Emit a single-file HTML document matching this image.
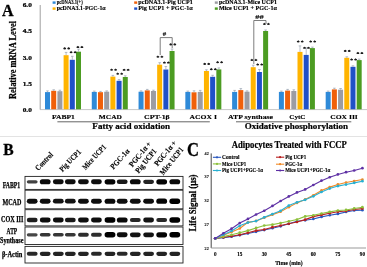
<!DOCTYPE html><html><head><meta charset="utf-8"><style>html,body{margin:0;padding:0;background:#fff;overflow:hidden}svg{display:block;will-change:transform;filter:blur(0.35px);}</style></head><body>
<svg width="367" height="267" viewBox="0 0 367 267" font-family='"Liberation Serif", serif' font-weight="bold" fill="#000">
<defs><filter id="bl" x="-50%" y="-150%" width="200%" height="400%"><feGaussianBlur stdDeviation="0.6 0.5"/></filter></defs>
<rect width="367" height="267" fill="#fff"/>
<text x="2.00" y="15.60" font-size="16" stroke="#000" stroke-width="0.3" >A</text>
<text x="31.90" y="6.90" font-size="6.0" text-anchor="end" textLength="9.2" lengthAdjust="spacingAndGlyphs" stroke="#000" stroke-width="0.22" >6.0</text>
<text x="31.90" y="32.80" font-size="6.0" text-anchor="end" textLength="9.2" lengthAdjust="spacingAndGlyphs" stroke="#000" stroke-width="0.22" >4.5</text>
<text x="31.90" y="59.70" font-size="6.0" text-anchor="end" textLength="9.2" lengthAdjust="spacingAndGlyphs" stroke="#000" stroke-width="0.22" >3.0</text>
<text x="31.90" y="86.00" font-size="6.0" text-anchor="end" textLength="9.2" lengthAdjust="spacingAndGlyphs" stroke="#000" stroke-width="0.22" >1.5</text>
<text x="31.90" y="111.70" font-size="6.0" text-anchor="end" textLength="9.2" lengthAdjust="spacingAndGlyphs" stroke="#000" stroke-width="0.22" >0.0</text>
<text transform="translate(16.00,60.00) rotate(-90)" font-size="10.2" text-anchor="middle" textLength="78" lengthAdjust="spacingAndGlyphs" stroke="#000" stroke-width="0.25" >Relative mRNA Level</text>
<line x1="40.2" y1="5" x2="40.2" y2="109.6" stroke="#a0a0a0" stroke-width="1"/>
<line x1="40" y1="109.6" x2="367" y2="109.6" stroke="#b8b8b8" stroke-width="0.8"/>
<rect x="45.00" y="92.1" width="5.0" height="17.20" fill="#2f8ad8"/>
<path d="M46.20 90.90H48.80M47.50 90.90V92.10" stroke="#98a2b0" stroke-width="0.7" fill="none"/>
<rect x="51.20" y="90.8" width="5.0" height="18.50" fill="#f0600a"/>
<path d="M52.40 89.80H55.00M53.70 89.80V90.80" stroke="#98a2b0" stroke-width="0.7" fill="none"/>
<rect x="57.40" y="91.2" width="5.0" height="18.10" fill="#9c9ca2"/>
<path d="M58.60 90.20H61.20M59.90 90.20V91.20" stroke="#98a2b0" stroke-width="0.7" fill="none"/>
<rect x="63.60" y="55.2" width="5.0" height="54.10" fill="#ffb400"/>
<path d="M64.80 52.40H67.40M66.10 52.40V55.20" stroke="#98a2b0" stroke-width="0.7" fill="none"/>
<rect x="69.80" y="59.8" width="5.0" height="49.50" fill="#1f50c8"/>
<path d="M71.00 56.30H73.60M72.30 56.30V59.80" stroke="#98a2b0" stroke-width="0.7" fill="none"/>
<rect x="76.00" y="51.7" width="5.0" height="57.60" fill="#4c9c22"/>
<path d="M77.20 49.20H79.80M78.50 49.20V51.70" stroke="#98a2b0" stroke-width="0.7" fill="none"/>
<rect x="91.78" y="91.9" width="5.0" height="17.40" fill="#2f8ad8"/>
<path d="M92.98 91.10H95.58M94.28 91.10V91.90" stroke="#98a2b0" stroke-width="0.7" fill="none"/>
<rect x="97.98" y="92.2" width="5.0" height="17.10" fill="#f0600a"/>
<path d="M99.18 91.40H101.78M100.48 91.40V92.20" stroke="#98a2b0" stroke-width="0.7" fill="none"/>
<rect x="104.18" y="91.7" width="5.0" height="17.60" fill="#9c9ca2"/>
<path d="M105.38 90.90H107.98M106.68 90.90V91.70" stroke="#98a2b0" stroke-width="0.7" fill="none"/>
<rect x="110.38" y="76.6" width="5.0" height="32.70" fill="#ffb400"/>
<path d="M111.58 75.40H114.18M112.88 75.40V76.60" stroke="#98a2b0" stroke-width="0.7" fill="none"/>
<rect x="116.58" y="80.8" width="5.0" height="28.50" fill="#1f50c8"/>
<path d="M117.78 79.60H120.38M119.08 79.60V80.80" stroke="#98a2b0" stroke-width="0.7" fill="none"/>
<rect x="122.78" y="77.0" width="5.0" height="32.30" fill="#4c9c22"/>
<path d="M123.98 75.80H126.58M125.28 75.80V77.00" stroke="#98a2b0" stroke-width="0.7" fill="none"/>
<rect x="138.56" y="91.7" width="5.0" height="17.60" fill="#2f8ad8"/>
<path d="M139.76 90.90H142.36M141.06 90.90V91.70" stroke="#98a2b0" stroke-width="0.7" fill="none"/>
<rect x="144.76" y="90.4" width="5.0" height="18.90" fill="#f0600a"/>
<path d="M145.96 89.40H148.56M147.26 89.40V90.40" stroke="#98a2b0" stroke-width="0.7" fill="none"/>
<rect x="150.96" y="91.0" width="5.0" height="18.30" fill="#9c9ca2"/>
<path d="M152.16 90.20H154.76M153.46 90.20V91.00" stroke="#98a2b0" stroke-width="0.7" fill="none"/>
<rect x="157.16" y="64.7" width="5.0" height="44.60" fill="#ffb400"/>
<path d="M158.36 62.70H160.96M159.66 62.70V64.70" stroke="#98a2b0" stroke-width="0.7" fill="none"/>
<rect x="163.36" y="69.5" width="5.0" height="39.80" fill="#1f50c8"/>
<path d="M164.56 66.50H167.16M165.86 66.50V69.50" stroke="#98a2b0" stroke-width="0.7" fill="none"/>
<rect x="169.56" y="51.0" width="5.0" height="58.30" fill="#4c9c22"/>
<path d="M170.76 49.00H173.36M172.06 49.00V51.00" stroke="#98a2b0" stroke-width="0.7" fill="none"/>
<rect x="185.34" y="91.9" width="5.0" height="17.40" fill="#2f8ad8"/>
<path d="M186.54 91.10H189.14M187.84 91.10V91.90" stroke="#98a2b0" stroke-width="0.7" fill="none"/>
<rect x="191.54" y="92.3" width="5.0" height="17.00" fill="#f0600a"/>
<path d="M192.74 90.80H195.34M194.04 90.80V92.30" stroke="#98a2b0" stroke-width="0.7" fill="none"/>
<rect x="197.74" y="91.9" width="5.0" height="17.40" fill="#9c9ca2"/>
<path d="M198.94 90.40H201.54M200.24 90.40V91.90" stroke="#98a2b0" stroke-width="0.7" fill="none"/>
<rect x="203.94" y="71.0" width="5.0" height="38.30" fill="#ffb400"/>
<path d="M205.14 69.80H207.74M206.44 69.80V71.00" stroke="#98a2b0" stroke-width="0.7" fill="none"/>
<rect x="210.14" y="76.8" width="5.0" height="32.50" fill="#1f50c8"/>
<path d="M211.34 75.30H213.94M212.64 75.30V76.80" stroke="#98a2b0" stroke-width="0.7" fill="none"/>
<rect x="216.34" y="69.4" width="5.0" height="39.90" fill="#4c9c22"/>
<path d="M217.54 67.90H220.14M218.84 67.90V69.40" stroke="#98a2b0" stroke-width="0.7" fill="none"/>
<rect x="232.12" y="91.9" width="5.0" height="17.40" fill="#2f8ad8"/>
<path d="M233.32 90.40H235.92M234.62 90.40V91.90" stroke="#98a2b0" stroke-width="0.7" fill="none"/>
<rect x="238.32" y="90.1" width="5.0" height="19.20" fill="#f0600a"/>
<path d="M239.52 88.60H242.12M240.82 88.60V90.10" stroke="#98a2b0" stroke-width="0.7" fill="none"/>
<rect x="244.52" y="91.7" width="5.0" height="17.60" fill="#9c9ca2"/>
<path d="M245.72 90.90H248.32M247.02 90.90V91.70" stroke="#98a2b0" stroke-width="0.7" fill="none"/>
<rect x="250.72" y="67.2" width="5.0" height="42.10" fill="#ffb400"/>
<path d="M251.92 65.20H254.52M253.22 65.20V67.20" stroke="#98a2b0" stroke-width="0.7" fill="none"/>
<rect x="256.92" y="72.0" width="5.0" height="37.30" fill="#1f50c8"/>
<path d="M258.12 69.50H260.72M259.42 69.50V72.00" stroke="#98a2b0" stroke-width="0.7" fill="none"/>
<rect x="263.12" y="31.0" width="5.0" height="78.30" fill="#4c9c22"/>
<path d="M264.32 30.00H266.92M265.62 30.00V31.00" stroke="#98a2b0" stroke-width="0.7" fill="none"/>
<rect x="278.90" y="91.9" width="5.0" height="17.40" fill="#2f8ad8"/>
<path d="M280.10 91.10H282.70M281.40 91.10V91.90" stroke="#98a2b0" stroke-width="0.7" fill="none"/>
<rect x="285.10" y="90.6" width="5.0" height="18.70" fill="#f0600a"/>
<path d="M286.30 89.40H288.90M287.60 89.40V90.60" stroke="#98a2b0" stroke-width="0.7" fill="none"/>
<rect x="291.30" y="91.0" width="5.0" height="18.30" fill="#9c9ca2"/>
<path d="M292.50 89.80H295.10M293.80 89.80V91.00" stroke="#98a2b0" stroke-width="0.7" fill="none"/>
<rect x="297.50" y="51.9" width="5.0" height="57.40" fill="#ffb400"/>
<path d="M298.70 45.90H301.30M300.00 45.90V51.90" stroke="#98a2b0" stroke-width="0.7" fill="none"/>
<rect x="303.70" y="54.9" width="5.0" height="54.40" fill="#1f50c8"/>
<path d="M304.90 47.90H307.50M306.20 47.90V54.90" stroke="#98a2b0" stroke-width="0.7" fill="none"/>
<rect x="309.90" y="48.1" width="5.0" height="61.20" fill="#4c9c22"/>
<path d="M311.10 47.10H313.70M312.40 47.10V48.10" stroke="#98a2b0" stroke-width="0.7" fill="none"/>
<rect x="325.68" y="91.9" width="5.0" height="17.40" fill="#2f8ad8"/>
<path d="M326.88 91.10H329.48M328.18 91.10V91.90" stroke="#98a2b0" stroke-width="0.7" fill="none"/>
<rect x="331.88" y="89.4" width="5.0" height="19.90" fill="#f0600a"/>
<path d="M333.08 88.20H335.68M334.38 88.20V89.40" stroke="#98a2b0" stroke-width="0.7" fill="none"/>
<rect x="338.08" y="89.7" width="5.0" height="19.60" fill="#9c9ca2"/>
<path d="M339.28 88.50H341.88M340.58 88.50V89.70" stroke="#98a2b0" stroke-width="0.7" fill="none"/>
<rect x="344.28" y="57.8" width="5.0" height="51.50" fill="#ffb400"/>
<path d="M345.48 56.80H348.08M346.78 56.80V57.80" stroke="#98a2b0" stroke-width="0.7" fill="none"/>
<rect x="350.48" y="66.8" width="5.0" height="42.50" fill="#1f50c8"/>
<path d="M351.68 65.80H354.28M352.98 65.80V66.80" stroke="#98a2b0" stroke-width="0.7" fill="none"/>
<rect x="356.68" y="60.1" width="5.0" height="49.20" fill="#4c9c22"/>
<path d="M357.88 59.10H360.48M359.18 59.10V60.10" stroke="#98a2b0" stroke-width="0.7" fill="none"/>
<ellipse cx="64.70" cy="48.50" rx="1.45" ry="0.9" fill="#1a1a1a"/>
<path d="M64.10 48.30L64.70 47.00L65.30 48.30Z" fill="#1a1a1a"/>
<ellipse cx="68.70" cy="48.50" rx="1.45" ry="0.9" fill="#1a1a1a"/>
<path d="M68.10 48.30L68.70 47.00L69.30 48.30Z" fill="#1a1a1a"/>
<ellipse cx="71.10" cy="52.30" rx="1.45" ry="0.9" fill="#1a1a1a"/>
<path d="M70.50 52.10L71.10 50.80L71.70 52.10Z" fill="#1a1a1a"/>
<ellipse cx="75.10" cy="52.30" rx="1.45" ry="0.9" fill="#1a1a1a"/>
<path d="M74.50 52.10L75.10 50.80L75.70 52.10Z" fill="#1a1a1a"/>
<ellipse cx="77.90" cy="47.20" rx="1.45" ry="0.9" fill="#1a1a1a"/>
<path d="M77.30 47.00L77.90 45.70L78.50 47.00Z" fill="#1a1a1a"/>
<ellipse cx="81.90" cy="47.20" rx="1.45" ry="0.9" fill="#1a1a1a"/>
<path d="M81.30 47.00L81.90 45.70L82.50 47.00Z" fill="#1a1a1a"/>
<ellipse cx="111.60" cy="69.80" rx="1.45" ry="0.9" fill="#1a1a1a"/>
<path d="M111.00 69.60L111.60 68.30L112.20 69.60Z" fill="#1a1a1a"/>
<ellipse cx="115.60" cy="69.80" rx="1.45" ry="0.9" fill="#1a1a1a"/>
<path d="M115.00 69.60L115.60 68.30L116.20 69.60Z" fill="#1a1a1a"/>
<ellipse cx="117.70" cy="73.80" rx="1.45" ry="0.9" fill="#1a1a1a"/>
<path d="M117.10 73.60L117.70 72.30L118.30 73.60Z" fill="#1a1a1a"/>
<ellipse cx="121.70" cy="73.80" rx="1.45" ry="0.9" fill="#1a1a1a"/>
<path d="M121.10 73.60L121.70 72.30L122.30 73.60Z" fill="#1a1a1a"/>
<ellipse cx="124.10" cy="69.90" rx="1.45" ry="0.9" fill="#1a1a1a"/>
<path d="M123.50 69.70L124.10 68.40L124.70 69.70Z" fill="#1a1a1a"/>
<ellipse cx="128.10" cy="69.90" rx="1.45" ry="0.9" fill="#1a1a1a"/>
<path d="M127.50 69.70L128.10 68.40L128.70 69.70Z" fill="#1a1a1a"/>
<ellipse cx="157.90" cy="56.80" rx="1.45" ry="0.9" fill="#1a1a1a"/>
<path d="M157.30 56.60L157.90 55.30L158.50 56.60Z" fill="#1a1a1a"/>
<ellipse cx="161.90" cy="56.80" rx="1.45" ry="0.9" fill="#1a1a1a"/>
<path d="M161.30 56.60L161.90 55.30L162.50 56.60Z" fill="#1a1a1a"/>
<ellipse cx="164.40" cy="62.70" rx="1.45" ry="0.9" fill="#1a1a1a"/>
<path d="M163.80 62.50L164.40 61.20L165.00 62.50Z" fill="#1a1a1a"/>
<ellipse cx="168.40" cy="62.70" rx="1.45" ry="0.9" fill="#1a1a1a"/>
<path d="M167.80 62.50L168.40 61.20L169.00 62.50Z" fill="#1a1a1a"/>
<ellipse cx="170.80" cy="44.50" rx="1.45" ry="0.9" fill="#1a1a1a"/>
<path d="M170.20 44.30L170.80 43.00L171.40 44.30Z" fill="#1a1a1a"/>
<ellipse cx="174.80" cy="44.50" rx="1.45" ry="0.9" fill="#1a1a1a"/>
<path d="M174.20 44.30L174.80 43.00L175.40 44.30Z" fill="#1a1a1a"/>
<ellipse cx="204.70" cy="64.00" rx="1.45" ry="0.9" fill="#1a1a1a"/>
<path d="M204.10 63.80L204.70 62.50L205.30 63.80Z" fill="#1a1a1a"/>
<ellipse cx="208.70" cy="64.00" rx="1.45" ry="0.9" fill="#1a1a1a"/>
<path d="M208.10 63.80L208.70 62.50L209.30 63.80Z" fill="#1a1a1a"/>
<ellipse cx="211.30" cy="69.30" rx="1.45" ry="0.9" fill="#1a1a1a"/>
<path d="M210.70 69.10L211.30 67.80L211.90 69.10Z" fill="#1a1a1a"/>
<ellipse cx="215.30" cy="69.30" rx="1.45" ry="0.9" fill="#1a1a1a"/>
<path d="M214.70 69.10L215.30 67.80L215.90 69.10Z" fill="#1a1a1a"/>
<ellipse cx="217.60" cy="62.30" rx="1.45" ry="0.9" fill="#1a1a1a"/>
<path d="M217.00 62.10L217.60 60.80L218.20 62.10Z" fill="#1a1a1a"/>
<ellipse cx="221.60" cy="62.30" rx="1.45" ry="0.9" fill="#1a1a1a"/>
<path d="M221.00 62.10L221.60 60.80L222.20 62.10Z" fill="#1a1a1a"/>
<ellipse cx="251.90" cy="60.10" rx="1.45" ry="0.9" fill="#1a1a1a"/>
<path d="M251.30 59.90L251.90 58.60L252.50 59.90Z" fill="#1a1a1a"/>
<ellipse cx="255.90" cy="60.10" rx="1.45" ry="0.9" fill="#1a1a1a"/>
<path d="M255.30 59.90L255.90 58.60L256.50 59.90Z" fill="#1a1a1a"/>
<ellipse cx="257.70" cy="64.60" rx="1.45" ry="0.9" fill="#1a1a1a"/>
<path d="M257.10 64.40L257.70 63.10L258.30 64.40Z" fill="#1a1a1a"/>
<ellipse cx="261.70" cy="64.60" rx="1.45" ry="0.9" fill="#1a1a1a"/>
<path d="M261.10 64.40L261.70 63.10L262.30 64.40Z" fill="#1a1a1a"/>
<ellipse cx="264.40" cy="24.10" rx="1.45" ry="0.9" fill="#1a1a1a"/>
<path d="M263.80 23.90L264.40 22.60L265.00 23.90Z" fill="#1a1a1a"/>
<ellipse cx="268.40" cy="24.10" rx="1.45" ry="0.9" fill="#1a1a1a"/>
<path d="M267.80 23.90L268.40 22.60L269.00 23.90Z" fill="#1a1a1a"/>
<ellipse cx="298.20" cy="41.60" rx="1.45" ry="0.9" fill="#1a1a1a"/>
<path d="M297.60 41.40L298.20 40.10L298.80 41.40Z" fill="#1a1a1a"/>
<ellipse cx="302.20" cy="41.60" rx="1.45" ry="0.9" fill="#1a1a1a"/>
<path d="M301.60 41.40L302.20 40.10L302.80 41.40Z" fill="#1a1a1a"/>
<ellipse cx="304.50" cy="47.90" rx="1.45" ry="0.9" fill="#1a1a1a"/>
<path d="M303.90 47.70L304.50 46.40L305.10 47.70Z" fill="#1a1a1a"/>
<ellipse cx="308.50" cy="47.90" rx="1.45" ry="0.9" fill="#1a1a1a"/>
<path d="M307.90 47.70L308.50 46.40L309.10 47.70Z" fill="#1a1a1a"/>
<ellipse cx="310.70" cy="41.60" rx="1.45" ry="0.9" fill="#1a1a1a"/>
<path d="M310.10 41.40L310.70 40.10L311.30 41.40Z" fill="#1a1a1a"/>
<ellipse cx="314.70" cy="41.60" rx="1.45" ry="0.9" fill="#1a1a1a"/>
<path d="M314.10 41.40L314.70 40.10L315.30 41.40Z" fill="#1a1a1a"/>
<ellipse cx="345.20" cy="51.00" rx="1.45" ry="0.9" fill="#1a1a1a"/>
<path d="M344.60 50.80L345.20 49.50L345.80 50.80Z" fill="#1a1a1a"/>
<ellipse cx="349.20" cy="51.00" rx="1.45" ry="0.9" fill="#1a1a1a"/>
<path d="M348.60 50.80L349.20 49.50L349.80 50.80Z" fill="#1a1a1a"/>
<ellipse cx="351.60" cy="59.60" rx="1.45" ry="0.9" fill="#1a1a1a"/>
<path d="M351.00 59.40L351.60 58.10L352.20 59.40Z" fill="#1a1a1a"/>
<ellipse cx="355.60" cy="59.60" rx="1.45" ry="0.9" fill="#1a1a1a"/>
<path d="M355.00 59.40L355.60 58.10L356.20 59.40Z" fill="#1a1a1a"/>
<ellipse cx="357.90" cy="53.20" rx="1.45" ry="0.9" fill="#1a1a1a"/>
<path d="M357.30 53.00L357.90 51.70L358.50 53.00Z" fill="#1a1a1a"/>
<ellipse cx="361.90" cy="53.20" rx="1.45" ry="0.9" fill="#1a1a1a"/>
<path d="M361.30 53.00L361.90 51.70L362.50 53.00Z" fill="#1a1a1a"/>
<path d="M160.2 55V37.6H172.2V48" stroke="#666" stroke-width="0.85" fill="none"/>
<text x="164.40" y="35.80" font-size="6.8" text-anchor="middle" stroke="#000" stroke-width="0.1" >#</text>
<path d="M253.8 64V20.5H266V24" stroke="#666" stroke-width="0.85" fill="none"/>
<text x="259.50" y="19.20" font-size="6.8" text-anchor="middle" textLength="8.4" lengthAdjust="spacingAndGlyphs" stroke="#000" stroke-width="0.1" >##</text>
<rect x="52.6" y="1.4" width="3" height="2.4" fill="#2f8ad8"/>
<text x="56.70" y="4.30" font-size="5.5" textLength="26" lengthAdjust="spacingAndGlyphs" stroke="#000" stroke-width="0.12" >pcDNA3.1(+)</text>
<rect x="52.6" y="7.4" width="3" height="2.4" fill="#ffb400"/>
<text x="56.70" y="10.30" font-size="5.5" textLength="49" lengthAdjust="spacingAndGlyphs" stroke="#000" stroke-width="0.12" >pcDNA3.1-PGC-1α</text>
<rect x="134.2" y="1.4" width="3" height="2.4" fill="#f0600a"/>
<text x="138.30" y="4.30" font-size="5.5" textLength="54.5" lengthAdjust="spacingAndGlyphs" stroke="#000" stroke-width="0.12" >pcDNA3.1-Pig UCP1</text>
<rect x="134.2" y="7.4" width="3" height="2.4" fill="#1f50c8"/>
<text x="138.30" y="10.30" font-size="5.5" textLength="54.5" lengthAdjust="spacingAndGlyphs" stroke="#000" stroke-width="0.12" >Pig UCP1 + PGC-1α</text>
<rect x="214.8" y="1.4" width="3" height="2.4" fill="#9c9ca2"/>
<text x="218.90" y="4.30" font-size="5.5" textLength="58" lengthAdjust="spacingAndGlyphs" stroke="#000" stroke-width="0.12" >pcDNA3.1-Mice UCP1</text>
<rect x="214.8" y="7.4" width="3" height="2.4" fill="#4c9c22"/>
<text x="218.90" y="10.30" font-size="5.5" textLength="58" lengthAdjust="spacingAndGlyphs" stroke="#000" stroke-width="0.12" >Mice UCP1 + PGC-1α</text>
<text x="63.45" y="119.10" font-size="6.9" text-anchor="middle" textLength="22.9" lengthAdjust="spacingAndGlyphs" stroke="#000" stroke-width="0.15" >FABP1</text>
<text x="110.40" y="119.10" font-size="6.9" text-anchor="middle" textLength="23.1" lengthAdjust="spacingAndGlyphs" stroke="#000" stroke-width="0.15" >MCAD</text>
<text x="156.90" y="119.10" font-size="6.9" text-anchor="middle" textLength="25.7" lengthAdjust="spacingAndGlyphs" stroke="#000" stroke-width="0.15" >CPT-1β</text>
<text x="203.20" y="119.10" font-size="6.9" text-anchor="middle" textLength="27.4" lengthAdjust="spacingAndGlyphs" stroke="#000" stroke-width="0.15" >ACOX I</text>
<text x="250.50" y="119.10" font-size="6.9" text-anchor="middle" textLength="45" lengthAdjust="spacingAndGlyphs" stroke="#000" stroke-width="0.15" >ATP synthase</text>
<text x="297.40" y="119.10" font-size="6.9" text-anchor="middle" textLength="16.3" lengthAdjust="spacingAndGlyphs" stroke="#000" stroke-width="0.15" >CytC</text>
<text x="344.00" y="119.10" font-size="6.9" text-anchor="middle" textLength="27.7" lengthAdjust="spacingAndGlyphs" stroke="#000" stroke-width="0.15" >COX III</text>
<line x1="57.4" y1="121.8" x2="209.8" y2="121.8" stroke="#555" stroke-width="0.9"/>
<line x1="236" y1="121.8" x2="351.3" y2="121.8" stroke="#555" stroke-width="0.9"/>
<text x="131.20" y="129.10" font-size="7.8" text-anchor="middle" textLength="77.7" lengthAdjust="spacingAndGlyphs" stroke="#000" stroke-width="0.2" >Fatty acid oxidation</text>
<text x="296.40" y="129.10" font-size="7.8" text-anchor="middle" textLength="103.3" lengthAdjust="spacingAndGlyphs" stroke="#000" stroke-width="0.2" >Oxidative phosphorylation</text>
<line x1="0" y1="136.5" x2="367" y2="136.5" stroke="#dcdcdc" stroke-width="0.8"/>
<text x="3.20" y="154.80" font-size="16.6" textLength="10.4" lengthAdjust="spacingAndGlyphs" stroke="#000" stroke-width="0.3" >B</text>
<text transform="translate(38.30,171.00) rotate(-46)" font-size="7.9" textLength="22" lengthAdjust="spacingAndGlyphs" stroke="#000" stroke-width="0.12" >Control</text>
<text transform="translate(62.40,172.20) rotate(-46)" font-size="7.9" textLength="27.5" lengthAdjust="spacingAndGlyphs" stroke="#000" stroke-width="0.12" >Pig UCP1</text>
<text transform="translate(85.40,170.20) rotate(-47)" font-size="7.9" textLength="31" lengthAdjust="spacingAndGlyphs" stroke="#000" stroke-width="0.12" >Mice UCP1</text>
<text transform="translate(113.60,169.80) rotate(-48)" font-size="7.9" textLength="24.5" lengthAdjust="spacingAndGlyphs" stroke="#000" stroke-width="0.12" >PGC-1α</text>
<text transform="translate(132.60,167.40) rotate(-51)" font-size="7.9" textLength="30" lengthAdjust="spacingAndGlyphs" stroke="#000" stroke-width="0.12" >PGC-1α +</text>
<text transform="translate(138.80,173.80) rotate(-51)" font-size="7.9" textLength="29" lengthAdjust="spacingAndGlyphs" stroke="#000" stroke-width="0.12" >Pig UCP1</text>
<text transform="translate(157.80,166.60) rotate(-51)" font-size="7.9" textLength="30" lengthAdjust="spacingAndGlyphs" stroke="#000" stroke-width="0.12" >PGC-1α +</text>
<text transform="translate(163.20,175.40) rotate(-51)" font-size="7.9" textLength="33" lengthAdjust="spacingAndGlyphs" stroke="#000" stroke-width="0.12" >Mice UCP1</text>
<rect x="25" y="176.4" width="158" height="13.0" fill="none" stroke="#222" stroke-width="0.9"/>
<rect x="25" y="190.2" width="158" height="18.6" fill="none" stroke="#222" stroke-width="0.9"/>
<rect x="25" y="209.7" width="158" height="16.2" fill="none" stroke="#222" stroke-width="0.9"/>
<rect x="25" y="227" width="158" height="17.5" fill="none" stroke="#222" stroke-width="0.9"/>
<rect x="25" y="246.4" width="158" height="16.6" fill="none" stroke="#222" stroke-width="0.9"/>
<text x="11.50" y="187.60" font-size="8.2" text-anchor="middle" textLength="17.5" lengthAdjust="spacingAndGlyphs" stroke="#000" stroke-width="0.25" >FABP1</text>
<text x="11.90" y="205.00" font-size="8.2" text-anchor="middle" textLength="18.9" lengthAdjust="spacingAndGlyphs" stroke="#000" stroke-width="0.25" >MCAD</text>
<text x="12.20" y="221.80" font-size="8.2" text-anchor="middle" textLength="22.5" lengthAdjust="spacingAndGlyphs" stroke="#000" stroke-width="0.25" >COX III</text>
<text x="11.90" y="233.60" font-size="8.2" text-anchor="middle" textLength="10.6" lengthAdjust="spacingAndGlyphs" stroke="#000" stroke-width="0.25" >ATP</text>
<text x="11.70" y="242.60" font-size="8.2" text-anchor="middle" textLength="23.4" lengthAdjust="spacingAndGlyphs" stroke="#000" stroke-width="0.25" >Synthase</text>
<text x="12.20" y="257.00" font-size="8.2" text-anchor="middle" textLength="20.5" lengthAdjust="spacingAndGlyphs" stroke="#000" stroke-width="0.25" >β-Actin</text>
<rect x="26.80" y="180.14" width="10.8" height="3.32" rx="1.66" ry="1.66" fill="#000" opacity="0.74" filter="url(#bl)"/>
<rect x="39.80" y="179.26" width="10.8" height="5.08" rx="2.54" ry="2.54" fill="#000" opacity="0.96" filter="url(#bl)"/>
<rect x="52.90" y="179.34" width="10.8" height="4.92" rx="2.46" ry="2.46" fill="#000" opacity="0.94" filter="url(#bl)"/>
<rect x="64.90" y="179.34" width="10.8" height="4.92" rx="2.46" ry="2.46" fill="#000" opacity="0.94" filter="url(#bl)"/>
<rect x="78.00" y="179.34" width="10.8" height="4.92" rx="2.46" ry="2.46" fill="#000" opacity="0.94" filter="url(#bl)"/>
<rect x="91.00" y="179.34" width="10.8" height="4.92" rx="2.46" ry="2.46" fill="#000" opacity="0.94" filter="url(#bl)"/>
<rect x="104.60" y="179.18" width="10.8" height="5.24" rx="2.62" ry="2.62" fill="#000" opacity="0.98" filter="url(#bl)"/>
<rect x="116.80" y="179.50" width="10.8" height="4.60" rx="2.30" ry="2.30" fill="#000" opacity="0.90" filter="url(#bl)"/>
<rect x="129.90" y="179.26" width="10.8" height="5.08" rx="2.54" ry="2.54" fill="#000" opacity="0.96" filter="url(#bl)"/>
<rect x="143.20" y="179.66" width="10.8" height="4.28" rx="2.14" ry="2.14" fill="#000" opacity="0.86" filter="url(#bl)"/>
<rect x="156.30" y="179.18" width="10.8" height="5.24" rx="2.62" ry="2.62" fill="#000" opacity="0.98" filter="url(#bl)"/>
<rect x="169.40" y="179.26" width="10.8" height="5.08" rx="2.54" ry="2.54" fill="#000" opacity="0.96" filter="url(#bl)"/>
<rect x="26.80" y="198.74" width="10.8" height="4.92" rx="2.46" ry="2.46" fill="#000" opacity="0.94" filter="url(#bl)"/>
<rect x="39.80" y="198.74" width="10.8" height="4.92" rx="2.46" ry="2.46" fill="#000" opacity="0.94" filter="url(#bl)"/>
<rect x="52.90" y="198.82" width="10.8" height="4.76" rx="2.38" ry="2.38" fill="#000" opacity="0.92" filter="url(#bl)"/>
<rect x="64.90" y="198.82" width="10.8" height="4.76" rx="2.38" ry="2.38" fill="#000" opacity="0.92" filter="url(#bl)"/>
<rect x="78.00" y="198.74" width="10.8" height="4.92" rx="2.46" ry="2.46" fill="#000" opacity="0.94" filter="url(#bl)"/>
<rect x="91.00" y="198.74" width="10.8" height="4.92" rx="2.46" ry="2.46" fill="#000" opacity="0.94" filter="url(#bl)"/>
<rect x="104.60" y="198.66" width="10.8" height="5.08" rx="2.54" ry="2.54" fill="#000" opacity="0.96" filter="url(#bl)"/>
<rect x="116.80" y="198.74" width="10.8" height="4.92" rx="2.46" ry="2.46" fill="#000" opacity="0.94" filter="url(#bl)"/>
<rect x="129.90" y="198.74" width="10.8" height="4.92" rx="2.46" ry="2.46" fill="#000" opacity="0.94" filter="url(#bl)"/>
<rect x="143.20" y="198.74" width="10.8" height="4.92" rx="2.46" ry="2.46" fill="#000" opacity="0.94" filter="url(#bl)"/>
<rect x="156.30" y="198.58" width="10.8" height="5.24" rx="2.62" ry="2.62" fill="#000" opacity="0.98" filter="url(#bl)"/>
<rect x="169.40" y="198.50" width="10.8" height="5.40" rx="2.70" ry="2.70" fill="#000" opacity="1.00" filter="url(#bl)"/>
<rect x="26.80" y="217.78" width="10.8" height="4.44" rx="2.22" ry="2.22" fill="#000" opacity="0.88" filter="url(#bl)"/>
<rect x="39.80" y="217.54" width="10.8" height="4.92" rx="2.46" ry="2.46" fill="#000" opacity="0.94" filter="url(#bl)"/>
<rect x="52.90" y="217.54" width="10.8" height="4.92" rx="2.46" ry="2.46" fill="#000" opacity="0.94" filter="url(#bl)"/>
<rect x="64.90" y="217.70" width="10.8" height="4.60" rx="2.30" ry="2.30" fill="#000" opacity="0.90" filter="url(#bl)"/>
<rect x="78.00" y="217.54" width="10.8" height="4.92" rx="2.46" ry="2.46" fill="#000" opacity="0.94" filter="url(#bl)"/>
<rect x="91.00" y="217.54" width="10.8" height="4.92" rx="2.46" ry="2.46" fill="#000" opacity="0.94" filter="url(#bl)"/>
<rect x="104.60" y="217.30" width="10.8" height="5.40" rx="2.70" ry="2.70" fill="#000" opacity="1.00" filter="url(#bl)"/>
<rect x="116.80" y="217.46" width="10.8" height="5.08" rx="2.54" ry="2.54" fill="#000" opacity="0.96" filter="url(#bl)"/>
<rect x="129.90" y="217.94" width="10.8" height="4.12" rx="2.06" ry="2.06" fill="#000" opacity="0.84" filter="url(#bl)"/>
<rect x="143.20" y="217.62" width="10.8" height="4.76" rx="2.38" ry="2.38" fill="#000" opacity="0.92" filter="url(#bl)"/>
<rect x="156.30" y="217.94" width="10.8" height="4.12" rx="2.06" ry="2.06" fill="#000" opacity="0.84" filter="url(#bl)"/>
<rect x="169.40" y="217.30" width="10.8" height="5.40" rx="2.70" ry="2.70" fill="#000" opacity="1.00" filter="url(#bl)"/>
<rect x="26.80" y="233.22" width="10.8" height="3.16" rx="1.58" ry="1.58" fill="#000" opacity="0.72" filter="url(#bl)"/>
<rect x="39.80" y="232.98" width="10.8" height="3.64" rx="1.82" ry="1.82" fill="#000" opacity="0.78" filter="url(#bl)"/>
<rect x="52.90" y="232.98" width="10.8" height="3.64" rx="1.82" ry="1.82" fill="#000" opacity="0.78" filter="url(#bl)"/>
<rect x="64.90" y="232.98" width="10.8" height="3.64" rx="1.82" ry="1.82" fill="#000" opacity="0.78" filter="url(#bl)"/>
<rect x="78.00" y="232.82" width="10.8" height="3.96" rx="1.98" ry="1.98" fill="#000" opacity="0.82" filter="url(#bl)"/>
<rect x="91.00" y="232.82" width="10.8" height="3.96" rx="1.98" ry="1.98" fill="#000" opacity="0.82" filter="url(#bl)"/>
<rect x="104.60" y="232.10" width="10.8" height="5.40" rx="2.70" ry="2.70" fill="#000" opacity="1.00" filter="url(#bl)"/>
<rect x="116.80" y="232.34" width="10.8" height="4.92" rx="2.46" ry="2.46" fill="#000" opacity="0.94" filter="url(#bl)"/>
<rect x="129.90" y="232.42" width="10.8" height="4.76" rx="2.38" ry="2.38" fill="#000" opacity="0.92" filter="url(#bl)"/>
<rect x="143.20" y="232.42" width="10.8" height="4.76" rx="2.38" ry="2.38" fill="#000" opacity="0.92" filter="url(#bl)"/>
<rect x="156.30" y="232.18" width="10.8" height="5.24" rx="2.62" ry="2.62" fill="#000" opacity="0.98" filter="url(#bl)"/>
<rect x="169.40" y="232.10" width="10.8" height="5.40" rx="2.70" ry="2.70" fill="#000" opacity="1.00" filter="url(#bl)"/>
<rect x="26.80" y="251.74" width="10.8" height="4.12" rx="2.06" ry="2.06" fill="#000" opacity="0.84" filter="url(#bl)"/>
<rect x="39.80" y="251.66" width="10.8" height="4.28" rx="2.14" ry="2.14" fill="#000" opacity="0.86" filter="url(#bl)"/>
<rect x="52.90" y="251.66" width="10.8" height="4.28" rx="2.14" ry="2.14" fill="#000" opacity="0.86" filter="url(#bl)"/>
<rect x="64.90" y="251.66" width="10.8" height="4.28" rx="2.14" ry="2.14" fill="#000" opacity="0.86" filter="url(#bl)"/>
<rect x="78.00" y="251.66" width="10.8" height="4.28" rx="2.14" ry="2.14" fill="#000" opacity="0.86" filter="url(#bl)"/>
<rect x="91.00" y="251.74" width="10.8" height="4.12" rx="2.06" ry="2.06" fill="#000" opacity="0.84" filter="url(#bl)"/>
<rect x="104.60" y="251.66" width="10.8" height="4.28" rx="2.14" ry="2.14" fill="#000" opacity="0.86" filter="url(#bl)"/>
<rect x="116.80" y="251.74" width="10.8" height="4.12" rx="2.06" ry="2.06" fill="#000" opacity="0.84" filter="url(#bl)"/>
<rect x="129.90" y="251.66" width="10.8" height="4.28" rx="2.14" ry="2.14" fill="#000" opacity="0.86" filter="url(#bl)"/>
<rect x="143.20" y="251.66" width="10.8" height="4.28" rx="2.14" ry="2.14" fill="#000" opacity="0.86" filter="url(#bl)"/>
<rect x="156.30" y="251.66" width="10.8" height="4.28" rx="2.14" ry="2.14" fill="#000" opacity="0.86" filter="url(#bl)"/>
<rect x="169.40" y="251.66" width="10.8" height="4.28" rx="2.14" ry="2.14" fill="#000" opacity="0.86" filter="url(#bl)"/>
<text x="187.00" y="155.80" font-size="18.3" textLength="12" lengthAdjust="spacingAndGlyphs" stroke="#000" stroke-width="0.3" >C</text>
<text x="289.30" y="148.20" font-size="9.4" text-anchor="middle" textLength="115" lengthAdjust="spacingAndGlyphs" stroke="#000" stroke-width="0.2" >Adipocytes Treated with FCCP</text>
<line x1="211.2" y1="153.4" x2="211.2" y2="248" stroke="#333" stroke-width="0.9"/>
<line x1="211.2" y1="248" x2="366" y2="248" stroke="#999" stroke-width="1"/>
<text x="208.80" y="155.10" font-size="4.2" text-anchor="end" stroke="#000" stroke-width="0.1" >42</text>
<text x="208.80" y="178.10" font-size="4.2" text-anchor="end" stroke="#000" stroke-width="0.1" >37</text>
<text x="208.80" y="201.70" font-size="4.2" text-anchor="end" stroke="#000" stroke-width="0.1" >32</text>
<text x="208.80" y="225.80" font-size="4.2" text-anchor="end" stroke="#000" stroke-width="0.1" >27</text>
<text x="208.80" y="249.50" font-size="4.2" text-anchor="end" stroke="#000" stroke-width="0.1" >22</text>
<text x="215.20" y="256.30" font-size="5.2" text-anchor="middle" stroke="#000" stroke-width="0.12" >0</text>
<text x="239.73" y="256.30" font-size="5.2" text-anchor="middle" stroke="#000" stroke-width="0.12" >15</text>
<text x="264.26" y="256.30" font-size="5.2" text-anchor="middle" stroke="#000" stroke-width="0.12" >30</text>
<text x="288.79" y="256.30" font-size="5.2" text-anchor="middle" stroke="#000" stroke-width="0.12" >45</text>
<text x="313.32" y="256.30" font-size="5.2" text-anchor="middle" stroke="#000" stroke-width="0.12" >60</text>
<text x="337.85" y="256.30" font-size="5.2" text-anchor="middle" stroke="#000" stroke-width="0.12" >75</text>
<text x="362.38" y="256.30" font-size="5.2" text-anchor="middle" stroke="#000" stroke-width="0.12" >90</text>
<text transform="translate(196.40,203.00) rotate(-90)" font-size="9.6" text-anchor="middle" textLength="57" lengthAdjust="spacingAndGlyphs" stroke="#000" stroke-width="0.25" >Life Signal (μs)</text>
<text x="288.90" y="265.00" font-size="6.3" text-anchor="middle" textLength="27.5" lengthAdjust="spacingAndGlyphs" stroke="#000" stroke-width="0.15" >Time (min)</text>
<path d="M215.20 238.48 L223.38 237.63 L231.56 236.77 L239.73 235.14 L247.91 233.52 L256.09 231.79 L264.27 230.07 L272.44 228.19 L280.62 226.31 L288.80 223.78 L296.98 221.27 L305.16 220.28 L313.33 219.01 L321.51 216.90 L329.69 215.27 L337.87 213.91 L346.04 211.98 L354.22 210.49 L362.40 210.20" stroke="#2a58c0" stroke-width="1.1" fill="none"/>
<circle cx="215.20" cy="238.48" r="1.35" fill="#2a58c0"/>
<circle cx="223.38" cy="237.63" r="1.35" fill="#2a58c0"/>
<circle cx="231.56" cy="236.77" r="1.35" fill="#2a58c0"/>
<circle cx="239.73" cy="235.14" r="1.35" fill="#2a58c0"/>
<circle cx="247.91" cy="233.52" r="1.35" fill="#2a58c0"/>
<circle cx="256.09" cy="231.79" r="1.35" fill="#2a58c0"/>
<circle cx="264.27" cy="230.07" r="1.35" fill="#2a58c0"/>
<circle cx="272.44" cy="228.19" r="1.35" fill="#2a58c0"/>
<circle cx="280.62" cy="226.31" r="1.35" fill="#2a58c0"/>
<circle cx="288.80" cy="223.78" r="1.35" fill="#2a58c0"/>
<circle cx="296.98" cy="221.27" r="1.35" fill="#2a58c0"/>
<circle cx="305.16" cy="220.28" r="1.35" fill="#2a58c0"/>
<circle cx="313.33" cy="219.01" r="1.35" fill="#2a58c0"/>
<circle cx="321.51" cy="216.90" r="1.35" fill="#2a58c0"/>
<circle cx="329.69" cy="215.27" r="1.35" fill="#2a58c0"/>
<circle cx="337.87" cy="213.91" r="1.35" fill="#2a58c0"/>
<circle cx="346.04" cy="211.98" r="1.35" fill="#2a58c0"/>
<circle cx="354.22" cy="210.49" r="1.35" fill="#2a58c0"/>
<circle cx="362.40" cy="210.20" r="1.35" fill="#2a58c0"/>
<path d="M215.20 238.47 L223.38 237.33 L231.56 236.17 L239.73 234.79 L247.91 232.72 L256.09 230.65 L264.27 229.54 L272.44 227.20 L280.62 225.50 L288.80 223.74 L296.98 222.02 L305.16 219.64 L313.33 216.62 L321.51 214.89 L329.69 213.17 L337.87 211.81 L346.04 211.03 L354.22 209.57 L362.40 208.60" stroke="#b82020" stroke-width="1.1" fill="none"/>
<circle cx="215.20" cy="238.47" r="1.35" fill="#b82020"/>
<circle cx="223.38" cy="237.33" r="1.35" fill="#b82020"/>
<circle cx="231.56" cy="236.17" r="1.35" fill="#b82020"/>
<circle cx="239.73" cy="234.79" r="1.35" fill="#b82020"/>
<circle cx="247.91" cy="232.72" r="1.35" fill="#b82020"/>
<circle cx="256.09" cy="230.65" r="1.35" fill="#b82020"/>
<circle cx="264.27" cy="229.54" r="1.35" fill="#b82020"/>
<circle cx="272.44" cy="227.20" r="1.35" fill="#b82020"/>
<circle cx="280.62" cy="225.50" r="1.35" fill="#b82020"/>
<circle cx="288.80" cy="223.74" r="1.35" fill="#b82020"/>
<circle cx="296.98" cy="222.02" r="1.35" fill="#b82020"/>
<circle cx="305.16" cy="219.64" r="1.35" fill="#b82020"/>
<circle cx="313.33" cy="216.62" r="1.35" fill="#b82020"/>
<circle cx="321.51" cy="214.89" r="1.35" fill="#b82020"/>
<circle cx="329.69" cy="213.17" r="1.35" fill="#b82020"/>
<circle cx="337.87" cy="211.81" r="1.35" fill="#b82020"/>
<circle cx="346.04" cy="211.03" r="1.35" fill="#b82020"/>
<circle cx="354.22" cy="209.57" r="1.35" fill="#b82020"/>
<circle cx="362.40" cy="208.60" r="1.35" fill="#b82020"/>
<path d="M215.20 238.45 L223.38 236.61 L231.56 234.76 L239.73 232.69 L247.91 230.62 L256.09 227.97 L264.27 225.50 L272.44 224.63 L280.62 223.00 L288.80 221.24 L296.98 219.59 L305.16 216.38 L313.33 215.31 L321.51 213.50 L329.69 211.87 L337.87 210.51 L346.04 209.93 L354.22 208.47 L362.40 207.20" stroke="#8cc03a" stroke-width="1.1" fill="none"/>
<circle cx="215.20" cy="238.45" r="1.35" fill="#8cc03a"/>
<circle cx="223.38" cy="236.61" r="1.35" fill="#8cc03a"/>
<circle cx="231.56" cy="234.76" r="1.35" fill="#8cc03a"/>
<circle cx="239.73" cy="232.69" r="1.35" fill="#8cc03a"/>
<circle cx="247.91" cy="230.62" r="1.35" fill="#8cc03a"/>
<circle cx="256.09" cy="227.97" r="1.35" fill="#8cc03a"/>
<circle cx="264.27" cy="225.50" r="1.35" fill="#8cc03a"/>
<circle cx="272.44" cy="224.63" r="1.35" fill="#8cc03a"/>
<circle cx="280.62" cy="223.00" r="1.35" fill="#8cc03a"/>
<circle cx="288.80" cy="221.24" r="1.35" fill="#8cc03a"/>
<circle cx="296.98" cy="219.59" r="1.35" fill="#8cc03a"/>
<circle cx="305.16" cy="216.38" r="1.35" fill="#8cc03a"/>
<circle cx="313.33" cy="215.31" r="1.35" fill="#8cc03a"/>
<circle cx="321.51" cy="213.50" r="1.35" fill="#8cc03a"/>
<circle cx="329.69" cy="211.87" r="1.35" fill="#8cc03a"/>
<circle cx="337.87" cy="210.51" r="1.35" fill="#8cc03a"/>
<circle cx="346.04" cy="209.93" r="1.35" fill="#8cc03a"/>
<circle cx="354.22" cy="208.47" r="1.35" fill="#8cc03a"/>
<circle cx="362.40" cy="207.20" r="1.35" fill="#8cc03a"/>
<path d="M215.20 238.42 L223.38 235.18 L231.56 231.93 L239.73 228.48 L247.91 222.37 L256.09 220.94 L264.27 217.64 L272.44 214.63 L280.62 211.67 L288.80 207.14 L296.98 202.88 L305.16 199.42 L313.33 195.23 L321.51 190.41 L329.69 187.13 L337.87 184.42 L346.04 182.49 L354.22 181.08 L362.40 179.50" stroke="#f08a28" stroke-width="1.1" fill="none"/>
<circle cx="215.20" cy="238.42" r="1.35" fill="#f08a28"/>
<circle cx="223.38" cy="235.18" r="1.35" fill="#f08a28"/>
<circle cx="231.56" cy="231.93" r="1.35" fill="#f08a28"/>
<circle cx="239.73" cy="228.48" r="1.35" fill="#f08a28"/>
<circle cx="247.91" cy="222.37" r="1.35" fill="#f08a28"/>
<circle cx="256.09" cy="220.94" r="1.35" fill="#f08a28"/>
<circle cx="264.27" cy="217.64" r="1.35" fill="#f08a28"/>
<circle cx="272.44" cy="214.63" r="1.35" fill="#f08a28"/>
<circle cx="280.62" cy="211.67" r="1.35" fill="#f08a28"/>
<circle cx="288.80" cy="207.14" r="1.35" fill="#f08a28"/>
<circle cx="296.98" cy="202.88" r="1.35" fill="#f08a28"/>
<circle cx="305.16" cy="199.42" r="1.35" fill="#f08a28"/>
<circle cx="313.33" cy="195.23" r="1.35" fill="#f08a28"/>
<circle cx="321.51" cy="190.41" r="1.35" fill="#f08a28"/>
<circle cx="329.69" cy="187.13" r="1.35" fill="#f08a28"/>
<circle cx="337.87" cy="184.42" r="1.35" fill="#f08a28"/>
<circle cx="346.04" cy="182.49" r="1.35" fill="#f08a28"/>
<circle cx="354.22" cy="181.08" r="1.35" fill="#f08a28"/>
<circle cx="362.40" cy="179.50" r="1.35" fill="#f08a28"/>
<path d="M215.20 238.41 L223.38 234.67 L231.56 230.90 L239.73 225.79 L247.91 222.54 L256.09 221.04 L264.27 217.35 L272.44 214.04 L280.62 210.79 L288.80 205.58 L296.98 202.32 L305.16 199.84 L313.33 196.32 L321.51 191.98 L329.69 188.55 L337.87 186.09 L346.04 184.57 L354.22 182.87 L362.40 181.20" stroke="#28b0d2" stroke-width="1.1" fill="none"/>
<circle cx="215.20" cy="238.41" r="1.35" fill="#28b0d2"/>
<circle cx="223.38" cy="234.67" r="1.35" fill="#28b0d2"/>
<circle cx="231.56" cy="230.90" r="1.35" fill="#28b0d2"/>
<circle cx="239.73" cy="225.79" r="1.35" fill="#28b0d2"/>
<circle cx="247.91" cy="222.54" r="1.35" fill="#28b0d2"/>
<circle cx="256.09" cy="221.04" r="1.35" fill="#28b0d2"/>
<circle cx="264.27" cy="217.35" r="1.35" fill="#28b0d2"/>
<circle cx="272.44" cy="214.04" r="1.35" fill="#28b0d2"/>
<circle cx="280.62" cy="210.79" r="1.35" fill="#28b0d2"/>
<circle cx="288.80" cy="205.58" r="1.35" fill="#28b0d2"/>
<circle cx="296.98" cy="202.32" r="1.35" fill="#28b0d2"/>
<circle cx="305.16" cy="199.84" r="1.35" fill="#28b0d2"/>
<circle cx="313.33" cy="196.32" r="1.35" fill="#28b0d2"/>
<circle cx="321.51" cy="191.98" r="1.35" fill="#28b0d2"/>
<circle cx="329.69" cy="188.55" r="1.35" fill="#28b0d2"/>
<circle cx="337.87" cy="186.09" r="1.35" fill="#28b0d2"/>
<circle cx="346.04" cy="184.57" r="1.35" fill="#28b0d2"/>
<circle cx="354.22" cy="182.87" r="1.35" fill="#28b0d2"/>
<circle cx="362.40" cy="181.20" r="1.35" fill="#28b0d2"/>
<path d="M215.20 238.37 L223.38 233.25 L231.56 228.69 L239.73 222.98 L247.91 218.94 L256.09 214.51 L264.27 210.75 L272.44 205.91 L280.62 200.99 L288.80 196.45 L296.98 192.41 L305.16 189.43 L313.33 185.02 L321.51 180.68 L329.69 177.23 L337.87 174.46 L346.04 172.17 L354.22 170.52 L362.40 168.20" stroke="#5e30a4" stroke-width="1.1" fill="none"/>
<circle cx="215.20" cy="238.37" r="1.35" fill="#5e30a4"/>
<circle cx="223.38" cy="233.25" r="1.35" fill="#5e30a4"/>
<circle cx="231.56" cy="228.69" r="1.35" fill="#5e30a4"/>
<circle cx="239.73" cy="222.98" r="1.35" fill="#5e30a4"/>
<circle cx="247.91" cy="218.94" r="1.35" fill="#5e30a4"/>
<circle cx="256.09" cy="214.51" r="1.35" fill="#5e30a4"/>
<circle cx="264.27" cy="210.75" r="1.35" fill="#5e30a4"/>
<circle cx="272.44" cy="205.91" r="1.35" fill="#5e30a4"/>
<circle cx="280.62" cy="200.99" r="1.35" fill="#5e30a4"/>
<circle cx="288.80" cy="196.45" r="1.35" fill="#5e30a4"/>
<circle cx="296.98" cy="192.41" r="1.35" fill="#5e30a4"/>
<circle cx="305.16" cy="189.43" r="1.35" fill="#5e30a4"/>
<circle cx="313.33" cy="185.02" r="1.35" fill="#5e30a4"/>
<circle cx="321.51" cy="180.68" r="1.35" fill="#5e30a4"/>
<circle cx="329.69" cy="177.23" r="1.35" fill="#5e30a4"/>
<circle cx="337.87" cy="174.46" r="1.35" fill="#5e30a4"/>
<circle cx="346.04" cy="172.17" r="1.35" fill="#5e30a4"/>
<circle cx="354.22" cy="170.52" r="1.35" fill="#5e30a4"/>
<circle cx="362.40" cy="168.20" r="1.35" fill="#5e30a4"/>
<line x1="212.9" y1="157.3" x2="221.1" y2="157.3" stroke="#2a58c0" stroke-width="1.1"/>
<circle cx="217.0" cy="157.3" r="1.1" fill="#2a58c0"/>
<text x="222.10" y="159.10" font-size="5.2" textLength="17.5" lengthAdjust="spacingAndGlyphs" stroke="#000" stroke-width="0.12" >Control</text>
<line x1="212.9" y1="163.9" x2="221.1" y2="163.9" stroke="#8cc03a" stroke-width="1.1"/>
<circle cx="217.0" cy="163.9" r="1.1" fill="#8cc03a"/>
<text x="222.10" y="165.70" font-size="5.2" textLength="24" lengthAdjust="spacingAndGlyphs" stroke="#000" stroke-width="0.12" >Mice UCP1</text>
<line x1="212.9" y1="170.5" x2="221.1" y2="170.5" stroke="#28b0d2" stroke-width="1.1"/>
<circle cx="217.0" cy="170.5" r="1.1" fill="#28b0d2"/>
<text x="222.10" y="172.30" font-size="5.2" textLength="41" lengthAdjust="spacingAndGlyphs" stroke="#000" stroke-width="0.12" >Pig UCP1+PGC-1α</text>
<line x1="276" y1="157.2" x2="284.2" y2="157.2" stroke="#b82020" stroke-width="1.1"/>
<circle cx="280.1" cy="157.2" r="1.1" fill="#b82020"/>
<text x="285.20" y="159.00" font-size="5.2" textLength="21" lengthAdjust="spacingAndGlyphs" stroke="#000" stroke-width="0.12" >Pig UCP1</text>
<line x1="276" y1="164.2" x2="284.2" y2="164.2" stroke="#f08a28" stroke-width="1.1"/>
<circle cx="280.1" cy="164.2" r="1.1" fill="#f08a28"/>
<text x="285.20" y="166.00" font-size="5.2" textLength="17" lengthAdjust="spacingAndGlyphs" stroke="#000" stroke-width="0.12" >PGC-1α</text>
<line x1="276" y1="170.5" x2="284.2" y2="170.5" stroke="#5e30a4" stroke-width="1.1"/>
<circle cx="280.1" cy="170.5" r="1.1" fill="#5e30a4"/>
<text x="285.20" y="172.30" font-size="5.2" textLength="45" lengthAdjust="spacingAndGlyphs" stroke="#000" stroke-width="0.12" >Mice UCP1+PGC-1α</text>
</svg></body></html>
